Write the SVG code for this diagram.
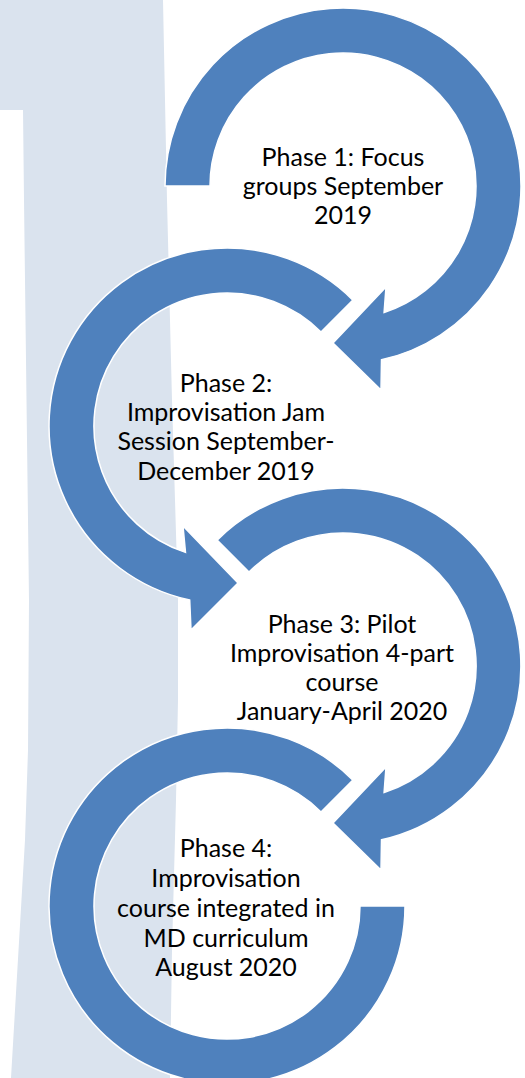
<svg xmlns="http://www.w3.org/2000/svg" width="525" height="1078" viewBox="0 0 525 1078">
  <style>
    .bg { fill: #dae3ee; }
    .ring { fill: #4f81bd; stroke: #ffffff; stroke-width: 1.5; stroke-linejoin: miter; }
    .lbl { font-family: "Lato", "Liberation Sans", sans-serif; font-size: 25px; fill: #000000; text-anchor: middle; }
  </style>
  <rect x="0" y="0" width="525" height="1078" fill="#ffffff"/>
  <g id="background">
    <path class="bg" d="M0,0 L163,0 L167,200 L172,400 L178,600 L178,700 L176,800 L172,950 L170,1078 L11,1078 L25,840 L28,750 L29,600 L24,200 L23,110 L0,110 Z"/>
  </g>
  <g id="connectors"></g>
  <g id="phase1">
    <path class="ring" d="M165,186 A178,178 0 1 1 381.5,359.8 L381,390 L333,343 L386,287 L384.1,312.5 A133,133 0 1 0 210,186 Z"/>
    <text class="lbl" x="343" y="166">Phase 1: Focus</text>
    <text class="lbl" x="343" y="195">groups September</text>
    <text class="lbl" x="343" y="224">2019</text>
  </g>
  <g id="phase2">
    <path class="ring" d="M352.9,300.1 A178,178 0 1 0 189.7,600 L191,630 L238,583 L183,526 L185.5,552.4 A133,133 0 1 1 321,332 Z"/>
    <text class="lbl" x="226" y="392">Phase 2:</text>
    <text class="lbl" x="226" y="421">Improvisation Jam</text>
    <text class="lbl" x="226" y="450">Session September-</text>
    <text class="lbl" x="226" y="480">December 2019</text>
  </g>
  <g id="phase3">
    <path class="ring" d="M217.1,540.1 A178,178 0 1 1 381.5,839.8 L381,870 L333,823 L386,767 L384.1,792.5 A133,133 0 1 0 249,572 Z"/>
    <text class="lbl" x="342" y="633">Phase 3: Pilot</text>
    <text class="lbl" x="342" y="662">Improvisation 4-part</text>
    <text class="lbl" x="342" y="691">course</text>
    <text class="lbl" x="342" y="720">January-April 2020</text>
  </g>
  <g id="phase4">
    <path class="ring" d="M352.9,780.1 A178,178 0 1 0 405,906 L360,906 A133,133 0 1 1 321,812 Z"/>
    <text class="lbl" x="226" y="857">Phase 4:</text>
    <text class="lbl" x="226" y="887">Improvisation</text>
    <text class="lbl" x="226" y="917">course integrated in</text>
    <text class="lbl" x="226" y="947">MD curriculum</text>
    <text class="lbl" x="226" y="976">August 2020</text>
  </g>
</svg>
